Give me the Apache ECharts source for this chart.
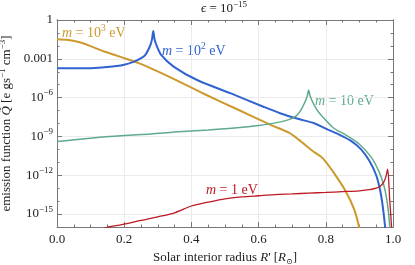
<!DOCTYPE html>
<html><head><meta charset="utf-8">
<script src="https://cdn.jsdelivr.net/npm/echarts@6/dist/echarts.min.js"></script>
<style>html,body{margin:0;padding:0;background:#fff}#c{width:415px;height:265px}</style>
</head><body><div id="c"></div>
<script>
// Solar interior radius R' (in R_sun) and emission function Q (e gs^-1 cm^-3)
const R_m1000 = [0,0.034,0.07,0.1,0.143,0.193,0.253,0.293,0.347,0.437,0.536,0.636,0.69,0.72,0.765,0.79,0.825,0.86,0.885,0.9,0.91];
const Q_m1000 = [3.2e-2,2.8e-2,1.8e-2,9.5e-3,3.5e-3,1.3e-3,3.7e-4,1.26e-4,2.8e-5,2.0e-6,1.26e-7,7.9e-9,1.95e-9,5.4e-10,6.3e-11,2.2e-11,1.4e-12,5.4e-14,2.1e-15,7.9e-17,3.2e-18];

const R_m100 = [0,0.1,0.15,0.2,0.23,0.25,0.263,0.278,0.283,0.2865,0.29,0.296,0.31,0.347,0.417,0.516,0.616,0.666,0.72,0.765,0.8,0.84,0.875,0.905,0.93,0.95,0.962,0.97,0.977,0.982];
const Q_m100 = [1.86e-4,1.9e-4,2.3e-4,3.5e-4,6.0e-4,1.12e-3,2.0e-3,1.17e-2,3.5e-2,0.14,3.5e-2,1.12e-2,2.0e-3,2.5e-4,2.3e-5,2.2e-6,1.9e-7,6.0e-8,2.2e-8,1.05e-8,4.0e-9,1.4e-9,4.5e-10,1e-10,1.26e-11,1e-12,6.3e-14,3.2e-15,7.9e-17,3.2e-18];

const R_m10 = [0,0.1,0.2,0.28,0.35,0.45,0.536,0.6,0.65,0.69,0.71,0.725,0.737,0.745,0.749,0.753,0.762,0.775,0.795,0.824,0.86,0.9,0.935,0.958,0.972,0.981,0.987,0.991,0.994];
const Q_m10 = [4.0e-10,7.4e-10,1.17e-9,1.55e-9,2.2e-9,3.2e-9,4.7e-9,7.1e-9,1.12e-8,2.0e-8,3.5e-8,1e-7,4.0e-7,1.4e-6,3.9e-6,1.4e-6,4.0e-7,1e-7,2.5e-8,4.3e-9,1.26e-9,2.5e-10,2.5e-11,2.0e-12,2.0e-13,1.6e-14,1e-15,6.3e-17,3.2e-18];

const R_m1 = [0.12,0.153,0.193,0.25,0.293,0.35,0.4,0.45,0.5,0.55,0.6,0.65,0.7,0.75,0.8,0.85,0.9,0.93,0.95,0.962,0.972,0.979,0.984,0.99,0.996,0.998];
const Q_m1 = [5.0e-17,1e-16,1.5e-16,3.2e-16,5.6e-16,1.26e-15,4.2e-15,8.3e-15,1.5e-14,2.1e-14,2.6e-14,3.2e-14,3.6e-14,4.2e-14,4.7e-14,5.4e-14,6.3e-14,7.6e-14,1e-13,1.4e-13,2.8e-13,7.9e-13,2.9e-12,1.6e-14,7.9e-17,1e-17];

// axis ticks (decade exponents)
const yMajorExp = [-15,-12,-9,-6,-3,0];
const yMin = 1e-16, yMax = 1;
const xTickLabels = ['0.0','0.2','0.4','0.6','0.8','1.0'];

const SERIF = '"Liberation Serif", "DejaVu Serif", serif';
const C = {gold:'#CC992C', blue:'#3063D0', teal:'#5EAA8C', red:'#BC1A24', axis:'#777777', grid:'#EBEBEB', text:'#222222'};

const chart = echarts.init(document.getElementById('c'), null, {renderer:'canvas'});

function yLabel(v){
  if (v === 0) return '{n|1}';
  if (v === -3) return '{n|0.001}';
  return '{n|10}{s|\u2212' + (-v) + '}';
}
const richY = {
  n:{fontFamily:SERIF, fontSize:13, color:C.text, lineHeight:18},
  s:{fontFamily:SERIF, fontSize:9, color:C.text, verticalAlign:'top', lineHeight:9}
};
const decoY = (pos, major, withLabels) => ({
  type:'value', position:pos, min:Math.log10(yMin), max:Math.log10(yMax),
  interval: major ? undefined : 1,
  axisLine:{show:true, lineStyle:{color:C.axis, width:1}},
  axisTick: major ? {show:true, inside:true, length:5, customValues:yMajorExp, lineStyle:{color:C.axis}}
                  : {show:true, inside:true, length:2.5, lineStyle:{color:C.axis}},
  axisLabel: withLabels ? {show:true, customValues:yMajorExp, formatter:yLabel, rich:richY, margin:4} : {show:false},
  splitLine: (major && withLabels) ? {show:true, lineStyle:{color:C.grid, width:1}} : {show:false}
});

function series(name, R, Q, color, w){
  return {name, type:'line', xAxisIndex:0, yAxisIndex:0, showSymbol:false, symbol:'none',
    clip:true, smooth:0.3, lineStyle:{color, width:w}, itemStyle:{color},
    data:R.map((r,i)=>[r,Q[i]]), animation:false};
}

function tx(x,y,text,color,size,rich){
  return {type:'text', x, y, silent:true, style:{text, fill:color, textAlign:'left', textVerticalAlign:'middle',
    fontSize:size, fontFamily:SERIF, rich}};
}
const richLab = (color) => ({
  i:{fontSize:14, fontFamily:SERIF, fontStyle:'italic', fill:color, lineHeight:20},
  t:{fontSize:14, fontFamily:SERIF, fill:color, lineHeight:20},
  s:{fontSize:9.5, fontFamily:SERIF, fill:color, verticalAlign:'top', lineHeight:9}
});

const option = {
  animation:false,
  textStyle:{fontFamily:SERIF},
  grid:{left:57, right:22, top:20, bottom:38, containLabel:false, outerBoundsMode:'none'},
  xAxis:[
    {type:'value', position:'bottom', min:0, max:1, interval:0.2,
     axisLine:{show:true, onZero:false, lineStyle:{color:C.axis}},
     axisTick:{show:true, inside:true, length:5, lineStyle:{color:C.axis}},
     minorTick:{show:true, splitNumber:4, length:2.5, lineStyle:{color:C.axis}},
     axisLabel:{show:true, margin:6, fontFamily:SERIF, fontSize:13, color:C.text,
       formatter:(v)=>xTickLabels[Math.round(v/0.2)]},
     splitLine:{show:true, lineStyle:{color:C.grid}},
     name:"Solar interior radius {i|R}' [{i|R}{b|\u2299}]", nameLocation:'middle', nameGap:20,
     nameTextStyle:{fontFamily:SERIF, fontSize:13, color:C.text, rich:{
       i:{fontFamily:SERIF, fontSize:13, fontStyle:'italic', color:C.text, lineHeight:18},
       b:{fontFamily:SERIF, fontSize:8, color:C.text, verticalAlign:'bottom', lineHeight:10}}}},
    {type:'value', position:'top', min:0, max:1, interval:0.2,
     axisLine:{show:true, onZero:false, lineStyle:{color:C.axis}},
     axisTick:{show:true, inside:true, length:5, lineStyle:{color:C.axis}},
     minorTick:{show:true, splitNumber:4, length:2.5, lineStyle:{color:C.axis}},
     axisLabel:{show:false}, splitLine:{show:false}}
  ],
  yAxis:[
    {type:'log', logBase:10, min:yMin, max:yMax, position:'left',
     axisLine:{show:false}, axisTick:{show:false}, axisLabel:{show:false}, splitLine:{show:false},
     name:'emission function {i|Q\u0303} [e gs{s|\u22121} cm{s|\u22123}]', nameLocation:'middle', nameRotate:90, nameGap:41,
     nameTextStyle:{fontFamily:SERIF, fontSize:13, color:C.text, rich:{
       i:{fontFamily:SERIF, fontSize:13, fontStyle:'italic', color:C.text, lineHeight:18},
       s:{fontFamily:SERIF, fontSize:9, color:C.text, verticalAlign:'top', lineHeight:9}}}},
    decoY('left', true, true),
    decoY('left', false, false),
    decoY('right', true, false),
    decoY('right', false, false)
  ],
  series:[
    series('m = 10^3 eV', R_m1000, Q_m1000, C.gold, 2),
    series('m = 10^2 eV', R_m100, Q_m100, C.blue, 2),
    series('m = 10 eV', R_m10, Q_m10, C.teal, 1.5),
    series('m = 1 eV', R_m1, Q_m1, C.red, 1.3)
  ],
  graphic:[
    {type:'text', x:224, y:9, silent:true, style:{text:'{i|\u03f5}{t| = 10}{s|\u221215}', textAlign:'center', textVerticalAlign:'middle',
      rich:{i:{fontSize:13, fontFamily:SERIF, fontStyle:'italic', fill:C.text, lineHeight:18},
            t:{fontSize:13, fontFamily:SERIF, fill:C.text, lineHeight:18},
            s:{fontSize:9, fontFamily:SERIF, fill:C.text, verticalAlign:'top', lineHeight:9}}}},
    tx(62, 33, '{i|m}{t| = 10}{s|3}{t| eV}', C.gold, 14, richLab(C.gold)),
    tx(162, 51, '{i|m}{t| = 10}{s|2}{t| eV}', C.blue, 14, richLab(C.blue)),
    tx(315, 101, '{i|m}{t| = 10 eV}', C.teal, 14, richLab(C.teal)),
    tx(206, 190, '{i|m}{t| = 1 eV}', C.red, 14, richLab(C.red))
  ]
};
chart.setOption(option);
</script>
</body></html>
